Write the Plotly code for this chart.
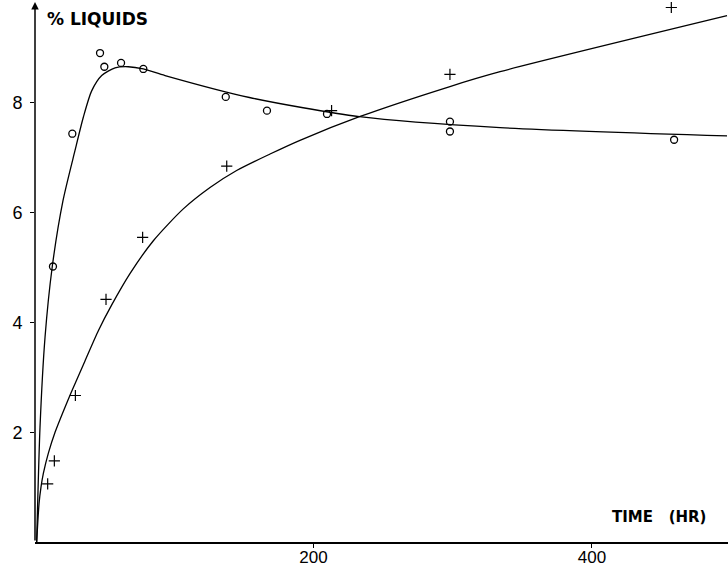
import plotly.graph_objects as go

# Observed data points (time in hours, % liquids)
circle_time = [12.9, 26.8, 46.7, 49.8, 61.8, 77.8, 137, 166.6, 209.7, 298, 298, 459]
circle_liq = [5.02, 7.44, 8.91, 8.66, 8.73, 8.62, 8.11, 7.86, 7.80, 7.66, 7.48, 7.33]

cross_time = [9.1, 13.9, 29, 51, 77.3, 137.7, 213, 298, 457]
cross_liq = [1.06, 1.48, 2.67, 4.42, 5.55, 6.85, 7.86, 8.52, 9.74]

# Fitted curves
curve_a_time = [1.2, 3.6, 7.2, 12.4, 20.1, 28.7, 34.7, 40.7, 47.9, 57.5, 67, 77.8, 93.4, 154, 233, 334, 497]
curve_a_liq = [0, 2.09, 3.73, 5.02, 6.22, 7.13, 7.74, 8.22, 8.50, 8.64, 8.66, 8.62, 8.50, 8.10, 7.75, 7.55, 7.40]

curve_b_time = [1.2, 2.9, 4.3, 6.0, 9.6, 14.4, 20.3, 25.9, 35.9, 45.5, 55.1, 68.2, 85, 106.5, 125.7, 144.8, 168.8, 190.3, 233, 298, 334, 497]
curve_b_liq = [0, 0.70, 1.0, 1.25, 1.62, 2.0, 2.38, 2.72, 3.30, 3.85, 4.32, 4.89, 5.49, 6.07, 6.46, 6.77, 7.07, 7.32, 7.75, 8.30, 8.57, 9.59]

x_ticks = [200, 400]
y_ticks = [2, 4, 6, 8]

X_MAX = 497.7
Y_MAX = 9.84

fig = go.Figure()
for cx, cy in ((curve_a_time, curve_a_liq), (curve_b_time, curve_b_liq)):
    fig.add_trace(go.Scatter(x=cx, y=cy, mode="lines",
                             line=dict(color="black", width=1.3, shape="spline", smoothing=0.7),
                             hoverinfo="skip"))
fig.add_trace(go.Scatter(x=circle_time, y=circle_liq, mode="markers",
                         marker=dict(symbol="circle-open", size=7, color="black",
                                     line=dict(width=1.3, color="black"))))
fig.add_trace(go.Scatter(x=cross_time, y=cross_liq, mode="markers",
                         marker=dict(symbol="cross-thin-open", size=8, color="black",
                                     line=dict(width=1.2, color="black"))))

tick_font = "Liberation Sans, Arial, sans-serif"
title_font = "DejaVu Sans, sans-serif"

L, R, T, B = 35, 0, 2, 25
W, H = 728, 567
plot_w = W - L - R
plot_h = H - T - B

fig.update_layout(
    width=W, height=H,
    margin=dict(l=L, r=R, t=T, b=B),
    paper_bgcolor="white", plot_bgcolor="white",
    showlegend=False,
    xaxis=dict(range=[0, X_MAX], tickvals=x_ticks, ticktext=[str(v) for v in x_ticks],
               showgrid=False, zeroline=False, showline=True, linecolor="black", linewidth=1.6,
               ticks="outside", ticklen=4, tickcolor="black", tickwidth=1, automargin=False,
               ticklabelstandoff=-5,
               tickfont=dict(family=tick_font, size=17, color="black")),
    yaxis=dict(range=[0, Y_MAX], tickvals=y_ticks, ticktext=[str(v) for v in y_ticks],
               showgrid=False, zeroline=False, showline=False, automargin=False,
               ticks="outside", ticklen=4, tickcolor="black", tickwidth=1,
               ticklabelstandoff=4,
               tickfont=dict(family=tick_font, size=18, color="black")),
    annotations=[
        dict(x=0, y=Y_MAX, ax=0, ay=0, xref="x", yref="y", axref="x", ayref="y",
             showarrow=True, arrowhead=2, arrowsize=1, arrowwidth=1.5, arrowcolor="black", text=""),
        dict(x=(45 - L) / plot_w, y=(H - B - 19) / plot_h, xref="paper", yref="paper",
             text="<b>%\u00a0LIQUIDS</b>", showarrow=False,
             font=dict(family=title_font, size=17, color="black"), xanchor="left", yanchor="middle"),
        dict(x=(708 - L) / plot_w, y=(H - B - 517) / plot_h, xref="paper", yref="paper",
             text="<b>TIME\u00a0\u00a0\u00a0(HR)</b>", showarrow=False,
             font=dict(family=title_font, size=15, color="black"), xanchor="right", yanchor="middle"),
    ],
)

fig.write_html("out.html", config={"displayModeBar": False},
               post_script="document.body.style.margin='0';document.body.style.overflow='hidden';")
